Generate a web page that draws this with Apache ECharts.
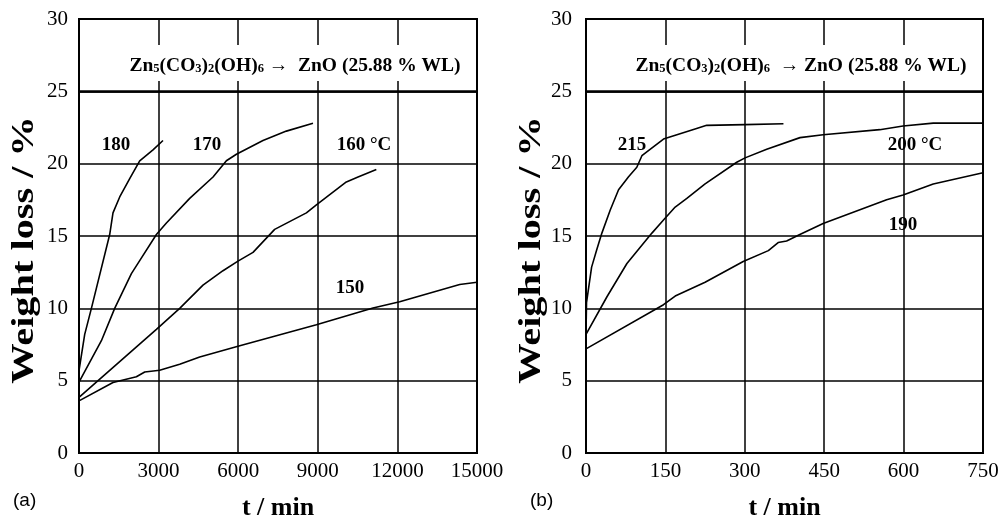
<!DOCTYPE html>
<html>
<head>
<meta charset="utf-8">
<script src="https://cdn.jsdelivr.net/npm/echarts@6/dist/echarts.min.js"></script>
<style>html,body{margin:0;padding:0;background:#fff;}#c{width:1003px;height:526px;}</style>
</head>
<body>
<div id="c"></div>
<script>
// ---- Panel (a): t / min, weight loss / %
var xTicksA = [0, 3000, 6000, 9000, 12000, 15000];
var t180 = [0, 215, 467, 1157, 1281, 1534, 1911, 2288, 2789, 3166];
var w180 = [5.7, 8.2, 10.0, 15.1, 16.6, 17.7, 18.96, 20.2, 20.95, 21.6];
var t170 = [0, 844, 1345, 1975, 2288, 2917, 3294, 4172, 5051, 5555, 5932, 6934, 7815, 8819];
var w170 = [4.9, 7.76, 10.0, 12.4, 13.3, 15.1, 15.9, 17.6, 19.08, 20.2, 20.65, 21.6, 22.25, 22.8];
var t160 = [0, 2917, 3795, 4673, 5427, 5992, 6558, 7374, 8570, 8947, 10076, 10516, 11206];
var w160 = [3.85, 8.55, 10.0, 11.6, 12.6, 13.26, 13.87, 15.46, 16.6, 17.15, 18.74, 19.08, 19.6];
var t150 = [0, 1281, 2163, 2477, 3040, 3795, 4549, 5992, 8947, 11081, 12086, 14348, 15000];
var w150 = [3.6, 4.87, 5.27, 5.6, 5.72, 6.13, 6.63, 7.38, 8.87, 10.02, 10.45, 11.65, 11.8];

// ---- Panel (b)
var xTicksB = [0, 150, 300, 450, 600, 750];
var t215 = [0, 1, 10.6, 20.7, 30, 45.8, 61.5, 80.4, 96, 105.6, 146.4, 206, 228, 300, 373];
var w215 = [8.3, 10.4, 12.85, 14.1, 15.2, 16.8, 18.2, 19.1, 19.75, 20.55, 21.7, 22.4, 22.65, 22.7, 22.76];
var t200 = [0, 39.6, 77.3, 124.5, 146.4, 168.5, 190.5, 225, 284.8, 300.5, 341.4, 404.3, 448, 555, 599, 656, 750];
var w200 = [8.2, 10.8, 13.1, 15.2, 16.1, 17.0, 17.6, 18.6, 20.1, 20.4, 21.0, 21.8, 22.0, 22.35, 22.6, 22.8, 22.8];
var t190 = [0, 146.4, 168.5, 225, 297, 344.5, 363, 379, 404, 448, 568, 599, 656, 750];
var w190 = [7.2, 10.25, 10.85, 11.8, 13.24, 13.99, 14.55, 14.66, 15.1, 15.86, 17.5, 17.83, 18.6, 19.37];

var yTicks = [0, 5, 10, 15, 20, 25, 30];
var yTitle = 'Weight loss / %';
var xTitle = 't / min';

function pairs(t, w) { return t.map(function (v, i) { return [v, w[i]]; }); }

var SERIF = '"Liberation Serif", "Times New Roman", serif';
var chart = echarts.init(document.getElementById('c'), null, { renderer: 'canvas' });

function plain(v) { return String(v); }

function xAxisCfg(idx, ticks) {
  return {
    type: 'value', gridIndex: idx,
    min: ticks[0], max: ticks[ticks.length - 1], interval: ticks[1] - ticks[0],
    name: xTitle, nameLocation: 'middle', nameGap: 42,
    nameTextStyle: { fontFamily: SERIF, fontWeight: 'bold', fontSize: 26, color: '#000' },
    axisLine: { show: true, lineStyle: { color: '#000', width: 2 } },
    axisTick: { show: false },
    axisLabel: { fontFamily: SERIF, fontSize: 21, color: '#000', margin: 8, formatter: plain },
    splitLine: { show: true, lineStyle: { color: '#000', width: 1.5 } }
  };
}
function yAxisCfg(idx, margin) {
  return {
    type: 'value', gridIndex: idx,
    min: yTicks[0], max: yTicks[yTicks.length - 1], interval: yTicks[1] - yTicks[0],
    axisLine: { show: true, lineStyle: { color: '#000', width: 2 } },
    axisTick: { show: false },
    axisLabel: { fontFamily: SERIF, fontSize: 21, color: '#000', margin: margin, formatter: plain },
    splitLine: { show: true, lineStyle: { color: '#000', width: 1.5 } }
  };
}
function lineSeries(xi, t, w, extra) {
  var s = {
    type: 'line', xAxisIndex: xi, yAxisIndex: xi,
    data: pairs(t, w), showSymbol: false, symbol: 'none',
    lineStyle: { color: '#000', width: 1.6 }, silent: true, animation: false, z: 3
  };
  if (extra) s.markLine = extra;
  return s;
}
var ref25 = {
  silent: true, symbol: 'none', label: { show: false }, animation: false,
  lineStyle: { color: '#000', width: 2.6, type: 'solid' },
  data: [{ yAxis: 25 }]
};

var formulaRich = {
  m: { fontFamily: SERIF, fontWeight: 'bold', fontSize: 19.5, fill: '#000', lineHeight: 22 },
  s: { fontFamily: SERIF, fontWeight: 'bold', fontSize: 12.5, fill: '#000', lineHeight: 22, verticalAlign: 'bottom', padding: [0, 0, 2, 0] }
};
var formulaA = '{m|Zn}{s|5}{m|(CO}{s|3}{m|)}{s|2}{m|(OH)}{s|6}{m| →  ZnO (25.88 % WL)}';
var formulaB = '{m|Zn}{s|5}{m|(CO}{s|3}{m|)}{s|2}{m|(OH)}{s|6}{m|  → ZnO (25.88 % WL)}';

function lbl(x, y, text) {
  return { type: 'text', x: x, y: y, z: 100, style: { text: text, fontFamily: SERIF, fontWeight: 'bold', fontSize: 19, fill: '#000', textAlign: 'center', textVerticalAlign: 'middle' } };
}
function ytitle(x) {
  return { type: 'text', x: x, y: 250, rotation: Math.PI / 2, scaleX: 1.3, z: 100, style: { text: yTitle, fontFamily: SERIF, fontWeight: 'bold', fontSize: 31, fill: '#000', textAlign: 'center', textVerticalAlign: 'middle' } };
}

chart.setOption({
  animation: false,
  backgroundColor: '#fff',
  grid: [
    { left: 79, right: 526, top: 19, bottom: 65, show: true, borderColor: '#000', borderWidth: 2 },
    { left: 586, right: 20, top: 19, bottom: 65, show: true, borderColor: '#000', borderWidth: 2 }
  ],
  xAxis: [xAxisCfg(0, xTicksA), xAxisCfg(1, xTicksB)],
  yAxis: [yAxisCfg(0, 11), yAxisCfg(1, 14)],
  series: [
    lineSeries(0, t180, w180, ref25),
    lineSeries(0, t170, w170),
    lineSeries(0, t160, w160),
    lineSeries(0, t150, w150),
    lineSeries(1, t215, w215, ref25),
    lineSeries(1, t200, w200),
    lineSeries(1, t190, w190)
  ],
  graphic: [
    { type: 'rect', z: 90, shape: { x: 90, y: 45, width: 380, height: 36 }, style: { fill: '#fff' } },
    { type: 'rect', z: 90, shape: { x: 596, y: 45, width: 380, height: 36 }, style: { fill: '#fff' } },
    { type: 'text', x: 295, y: 66, z: 100, style: { text: formulaA, rich: formulaRich, textAlign: 'center', textVerticalAlign: 'middle' } },
    { type: 'text', x: 801, y: 66, z: 100, style: { text: formulaB, rich: formulaRich, textAlign: 'center', textVerticalAlign: 'middle' } },
    lbl(116, 145, '180'), lbl(207, 145, '170'), lbl(364, 145, '160 °C'), lbl(350, 288, '150'),
    lbl(632, 145, '215'), lbl(915, 145, '200 °C'), lbl(903, 225, '190'),
    ytitle(25), ytitle(532),
    { type: 'text', x: 13, y: 501, z: 100, style: { text: '(a)', fontFamily: '"Liberation Sans", Arial, sans-serif', fontSize: 19, fill: '#000', textAlign: 'left', textVerticalAlign: 'middle' } },
    { type: 'text', x: 530, y: 501, z: 100, style: { text: '(b)', fontFamily: '"Liberation Sans", Arial, sans-serif', fontSize: 19, fill: '#000', textAlign: 'left', textVerticalAlign: 'middle' } }
  ]
});
</script>
</body>
</html>
